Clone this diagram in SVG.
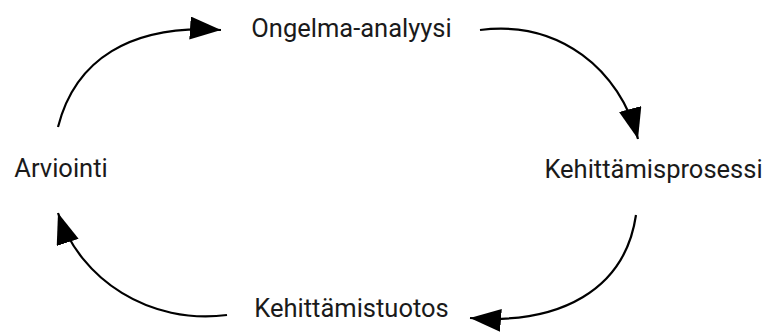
<svg xmlns="http://www.w3.org/2000/svg" width="769" height="336" viewBox="0 0 769 336">
<defs>
<style>
.lbl{font-family:Roboto,"Liberation Sans",Arial,sans-serif;font-size:25.5px;fill:#1a1a1a;text-anchor:middle}
.edge{fill:none;stroke:#000;stroke-width:2.2}
</style>
<marker id="ah" markerUnits="userSpaceOnUse" markerWidth="32" markerHeight="24" refX="31" refY="11.5" orient="auto" viewBox="0 0 32 24">
<path d="M0,0 L31,11.5 L0,23 z" fill="#000"/>
</marker>
</defs>
<rect width="769" height="336" fill="#fff"/>
<g id="connectors">
<path class="edge" d="M58,127 C75,60 130,24 221,30" marker-end="url(#ah)"/>
<path class="edge" d="M480,30 C560,20 620,70 638,139" marker-end="url(#ah)"/>
<path class="edge" d="M636,215 C625,290 560,325 470,318" marker-end="url(#ah)"/>
<path class="edge" d="M227,315 C150,325 80,280 58,213" marker-end="url(#ah)"/>
</g>
<g id="node-ongelma"><text class="lbl" x="351.5" y="37">Ongelma-analyysi</text></g>
<g id="node-kehittamisprosessi"><text class="lbl" x="653.5" y="178">Kehittämisprosessi</text></g>
<g id="node-kehittamistuotos"><text class="lbl" x="351.5" y="317">Kehittämistuotos</text></g>
<g id="node-arviointi"><text class="lbl" x="61" y="177">Arviointi</text></g>
</svg>
